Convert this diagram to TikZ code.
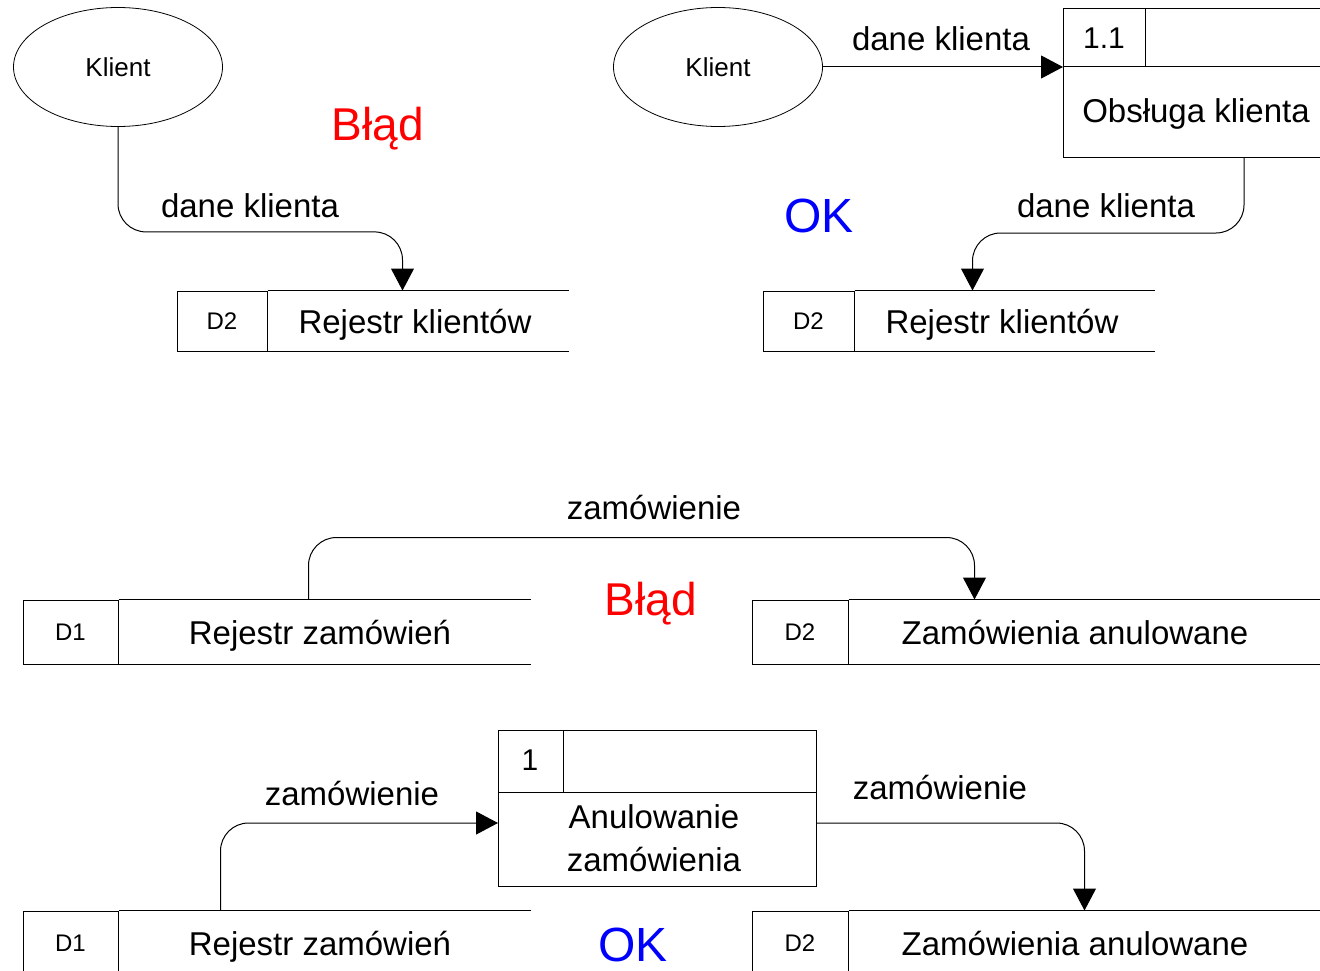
\documentclass[tikz,border=0pt]{standalone}
\usepackage{fontspec}
\setmainfont{Liberation Sans}
\usetikzlibrary{arrows.meta,calc,positioning,shapes.geometric}
\def\StoreW{90pt}
\def\StoreH{60pt}
\tikzset{
  flow/.style={draw,line width=1pt,rounded corners=28pt,-{Triangle[length=22pt,width=23pt]}},
  ent/.style={ellipse,draw,line width=0.8pt,minimum width=209pt,minimum height=119pt,inner sep=0pt,font=\fontsize{26}{30}\selectfont},
  sid/.style={rectangle,draw,line width=1pt,minimum width=\StoreW,minimum height=\StoreH,inner sep=0pt,font=\fontsize{24}{28}\selectfont},
  proc/.style={rectangle,draw,line width=1pt,inner sep=0pt},
  edge/.style={draw,line width=1pt},
  txt/.style={inner sep=0pt,text depth=0pt,font=\fontsize{33}{43}\selectfont},
  num/.style={inner sep=0pt,font=\fontsize{30}{36}\selectfont},
  bad/.style={inner sep=0pt,text depth=0pt,text=red,font=\fontsize{46}{52}\selectfont},
  good/.style={inner sep=0pt,text depth=0pt,text=blue,font=\fontsize{48}{54}\selectfont}
}
\begin{document}
\begin{tikzpicture}[x=1pt,y=-1pt]
  \useasboundingbox (0,0) rectangle (1320,971);
  \clip (0,0) rectangle (1320,971);
  %
  % top left
  \node[ent] (kl1) at (118,67) {Klient};
  \node[sid] (s1) at (222,321) {D2};
  \path[edge] (s1.north east) -- ++(301,0) (s1.south east) -- ++(301,0);
  \node[txt] (s1t) at (415,321) {Rejestr klientów};
  \coordinate (s1in) at ($(s1.north west)+(226,0)$);
  \draw[flow] (kl1.south) -- ++(0,105) -| (s1in);
  \node[txt] (l1) at (250,206) {dane klienta};
  \node[bad] (e1) at (378,124) {Błąd};
  %
  % top right
  \node[ent] (kl2) at (718,67) {Klient};
  \node[proc,minimum width=266pt,minimum height=149pt,anchor=north west] (p1) at (1063,8) {};
  \coordinate (p1w) at ($(p1.north west)+(0,59)$);
  \path[edge] (p1w) -- ($(p1.north east)+(0,59)$);
  \path[edge] ($(p1.north west)+(82,0)$) -- ++(0,59);
  \node[num] (p1n) at (1104,38) {1.1};
  \node[txt] (p1t) at (1196,111) {Obsługa klienta};
  \draw[flow] (kl2.east) -- (p1w);
  \node[txt] (l2) at (941,39) {dane klienta};
  \node[sid,minimum width=91pt] (s2) at (808.5,321) {D2};
  \path[edge] (s2.north east) -- ++(300,0) (s2.south east) -- ++(300,0);
  \node[txt] (s2t) at (1002,321) {Rejestr klientów};
  \coordinate (s2in) at ($(s2.north west)+(210,0)$);
  \draw[flow] ($(p1.south west)+(181,0)$) -- ++(0,75) -| (s2in);
  \node[txt] (l3) at (1106,206) {dane klienta};
  \node[good] (o1) at (819,216) {OK};
  %
  % middle
  \node[sid,minimum width=95pt,minimum height=64pt] (s3) at (70.5,632) {D1};
  \path[edge] (s3.north east) -- ++(412,0) (s3.south east) -- ++(412,0);
  \node[txt] (s3t) at (320,632) {Rejestr zamówień};
  \node[sid,minimum width=96pt,minimum height=64pt] (s4) at (800,632) {D2};
  \path[edge] (s4.north east) -- ++(482,0) (s4.south east) -- ++(482,0);
  \node[txt] (s4t) at (1075,632) {Zamówienia anulowane};
  \draw[flow] ($(s3.north west)+(286,0)$) -- ++(0,-62) -| ($(s4.north west)+(223,0)$);
  \node[txt] (l4) at (654,507) {zamówienie};
  \node[bad] (e2) at (651,599) {Błąd};
  %
  % bottom
  \node[proc,minimum width=318pt,minimum height=156pt,anchor=north west] (p2) at (498,730) {};
  \path[edge] ($(p2.north west)+(0,62)$) -- ($(p2.north east)+(0,62)$);
  \path[edge] ($(p2.north west)+(65,0)$) -- ++(0,62);
  \node[num] (p2n) at (530,760) {1};
  \node[txt,align=center] (p2t) at (654,838) {Anulowanie\\zamówienia};
  \node[sid,minimum width=95pt,minimum height=64pt] (s5) at (70.5,943) {D1};
  \path[edge] (s5.north east) -- ++(412,0) (s5.south east) -- ++(412,0);
  \node[txt] (s5t) at (320,943) {Rejestr zamówień};
  \node[sid,minimum width=96pt,minimum height=64pt] (s6) at (800,943) {D2};
  \path[edge] (s6.north east) -- ++(482,0) (s6.south east) -- ++(482,0);
  \node[txt] (s6t) at (1075,943) {Zamówienia anulowane};
  \draw[flow] ($(s5.north west)+(198,0)$) |- ($(p2.north west)+(0,93)$);
  \draw[flow] ($(p2.north east)+(0,93)$) -| ($(s6.north west)+(333,0)$);
  \node[txt] (l5) at (352,793) {zamówienie};
  \node[txt] (l6) at (940,787) {zamówienie};
  \node[good] (o2) at (633,945) {OK};
\end{tikzpicture}
\end{document}
